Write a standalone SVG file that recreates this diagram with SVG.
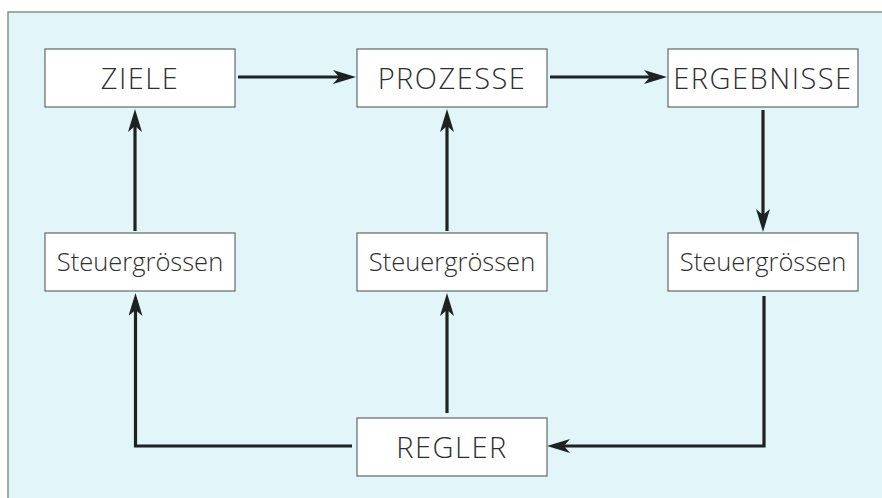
<svg xmlns="http://www.w3.org/2000/svg" width="882" height="498" viewBox="0 0 882 498">
<style>
.box{fill:#ffffff;stroke:#6f7373;stroke-width:1.3}
.cap{font-family:"Open Sans","Noto Sans",sans-serif;font-weight:300;font-size:29px;fill:#2e2e2e;text-anchor:middle;letter-spacing:1.5px}
.low{font-family:"Open Sans","Noto Sans",sans-serif;font-weight:300;font-size:25.5px;fill:#2e2e2e;text-anchor:middle}
.con{fill:none;stroke:#1e2222;stroke-width:3.2;marker-end:url(#ah)}
</style>
<defs>
<marker id="ah" markerUnits="userSpaceOnUse" viewBox="0 0 23 14" refX="12" refY="7" markerWidth="23" markerHeight="14" orient="auto">
<path d="M0,0 L23,7 L0,14 L6,7 Z" fill="#1e2222"/>
</marker>
</defs>
<rect x="0" y="0" width="882" height="498" fill="#ffffff"/>
<rect x="8" y="12" width="880" height="492" fill="#e2f5f8" stroke="#7a7e7e" stroke-width="1.3"/>
<g id="connectors">
<line class="con" x1="238" y1="77" x2="345" y2="77"/>
<line class="con" x1="550" y1="77" x2="656" y2="77"/>
<line class="con" x1="763" y1="110" x2="763" y2="221"/>
<line class="con" x1="135" y1="231" x2="135" y2="120"/>
<line class="con" x1="447" y1="231" x2="447" y2="120"/>
<line class="con" x1="447" y1="413" x2="447" y2="304"/>
<path class="con" d="M352,446 H135.5 V304"/>
<path class="con" d="M764,296 V446 H558"/>
</g>
<g id="ziele"><rect class="box" x="45" y="49" width="190" height="58"/><text class="cap" x="140" y="89">ZIELE</text></g>
<g id="prozesse"><rect class="box" x="357" y="49" width="190" height="58"/><text class="cap" x="452" y="89">PROZESSE</text></g>
<g id="ergebnisse"><rect class="box" x="668" y="49" width="190" height="58"/><text class="cap" x="763" y="89">ERGEBNISSE</text></g>
<g id="steuer1"><rect class="box" x="45" y="233" width="190" height="58"/><text class="low" x="140" y="271">Steuergrössen</text></g>
<g id="steuer2"><rect class="box" x="357" y="233" width="190" height="58"/><text class="low" x="452" y="271">Steuergrössen</text></g>
<g id="steuer3"><rect class="box" x="668" y="233" width="190" height="58"/><text class="low" x="763" y="271">Steuergrössen</text></g>
<g id="regler"><rect class="box" x="357" y="418" width="190" height="58"/><text class="cap" x="452" y="458">REGLER</text></g>
</svg>
